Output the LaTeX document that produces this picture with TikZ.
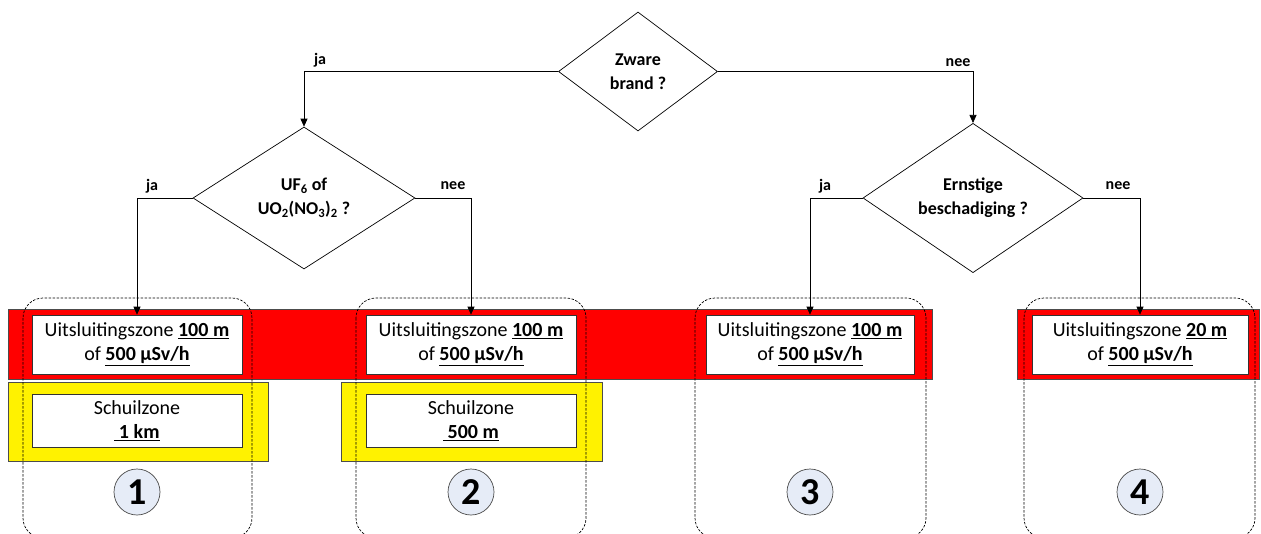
\documentclass[tikz,border=0pt]{standalone}
\usepackage{fontspec}
\setmainfont{Carlito}
\usetikzlibrary{shapes.geometric,arrows.meta}
\definecolor{numfill}{HTML}{E6ECF7}
\begin{document}
\begin{tikzpicture}[x=1pt,y=-1pt,
  dec/.style={diamond,draw,line width=0.7pt,inner sep=0pt,font=\fontsize{18}{24}\selectfont\bfseries,align=center},
  zone/.style={draw=black!80,line width=0.7pt,fill=white,minimum height=59pt,inner sep=0pt,font=\fontsize{20}{24}\selectfont,align=center},
  schuil/.style={zone,minimum height=53pt},
  band/.style={draw=black!70,line width=0.6pt},
  lbl/.style={font=\fontsize{16}{18}\selectfont\bfseries},
  conn/.style={-{Triangle[length=8pt,width=7pt]},line width=0.7pt},
  group/.style={draw=black,dash pattern=on 2.5pt off 1.5pt,rounded corners=20pt,line width=0.7pt},
  num/.style={circle,draw=black!70,line width=0.7pt,fill=numfill,minimum size=46pt,inner sep=0pt,font=\fontsize{38}{38}\selectfont\bfseries}
]
\useasboundingbox (0,0) rectangle (1261,533);
\fill[white] (0,0) rectangle (1261,533);

% colour bands
\draw[band,fill=red] (8,309) rectangle (932,379);
\draw[band,fill=red] (1017,309) rectangle (1259,379);
\draw[band,fill=yellow] (8,382) rectangle (268,461);
\draw[band,fill=yellow] (341,382) rectangle (602,461);

% decisions
\node[dec,minimum width=159pt,minimum height=119pt] (d1) at (638,71.5) {Zware\\brand ?};
\node[dec,minimum width=222pt,minimum height=142pt] (d2) at (304,198) {UF\textsubscript{6} of\\UO\textsubscript{2}(NO\textsubscript{3})\textsubscript{2} ?};
\node[dec,minimum width=220pt,minimum height=142pt] (d3) at (973,198) {Ernstige\\beschadiging ?};

% zones
\node[zone,minimum width=210pt] (z1) at (137,344.5) {Uitsluitingszone \textbf{\underline{100 m}}\\of \textbf{\underline{500 μSv/h}}};
\node[zone,minimum width=210pt] (z2) at (471,344.5) {Uitsluitingszone \textbf{\underline{100 m}}\\of \textbf{\underline{500 μSv/h}}};
\node[zone,minimum width=208pt] (z3) at (810,344.5) {Uitsluitingszone \textbf{\underline{100 m}}\\of \textbf{\underline{500 μSv/h}}};
\node[zone,minimum width=216pt] (z4) at (1140,344.5) {Uitsluitingszone \textbf{\underline{20 m}}\\of \textbf{\underline{500 μSv/h}}};

\node[schuil,minimum width=210pt] (s1) at (137,420.5) {Schuilzone\\\textbf{\underline{\ 1 km}}};
\node[schuil,minimum width=210pt] (s2) at (471,420.5) {Schuilzone\\\textbf{\underline{\ 500 m}}};

% numbers
\node[num] (n1) at (137,492) {1};
\node[num] (n2) at (471,492) {2};
\node[num] (n3) at (810,492) {3};
\node[num] (n4) at (1140,492) {4};

% connectors
\draw[conn] (d1.west) -| (d2.north);
\draw[conn] (d1.east) -| (d3.north);
\draw[conn] (d2.west) -| (z1.north);
\draw[conn] (d2.east) -| (z2.north);
\draw[conn] (d3.west) -| (z3.north);
\draw[conn] (d3.east) -| (z4.north);

% labels
\node[lbl] (l1) at (320,60) {ja};
\node[lbl] (l2) at (958,63) {nee};
\node[lbl] (l3) at (152,186) {ja};
\node[lbl] (l4) at (453,186) {nee};
\node[lbl] (l5) at (825,186) {ja};
\node[lbl] (l6) at (1118,186) {nee};

% dashed groups
\draw[group] (23,298) rectangle (252,538);
\draw[group] (356,298) rectangle (586,538);
\draw[group] (695,298) rectangle (926,538);
\draw[group] (1024,298) rectangle (1255,538);
\end{tikzpicture}
\end{document}
